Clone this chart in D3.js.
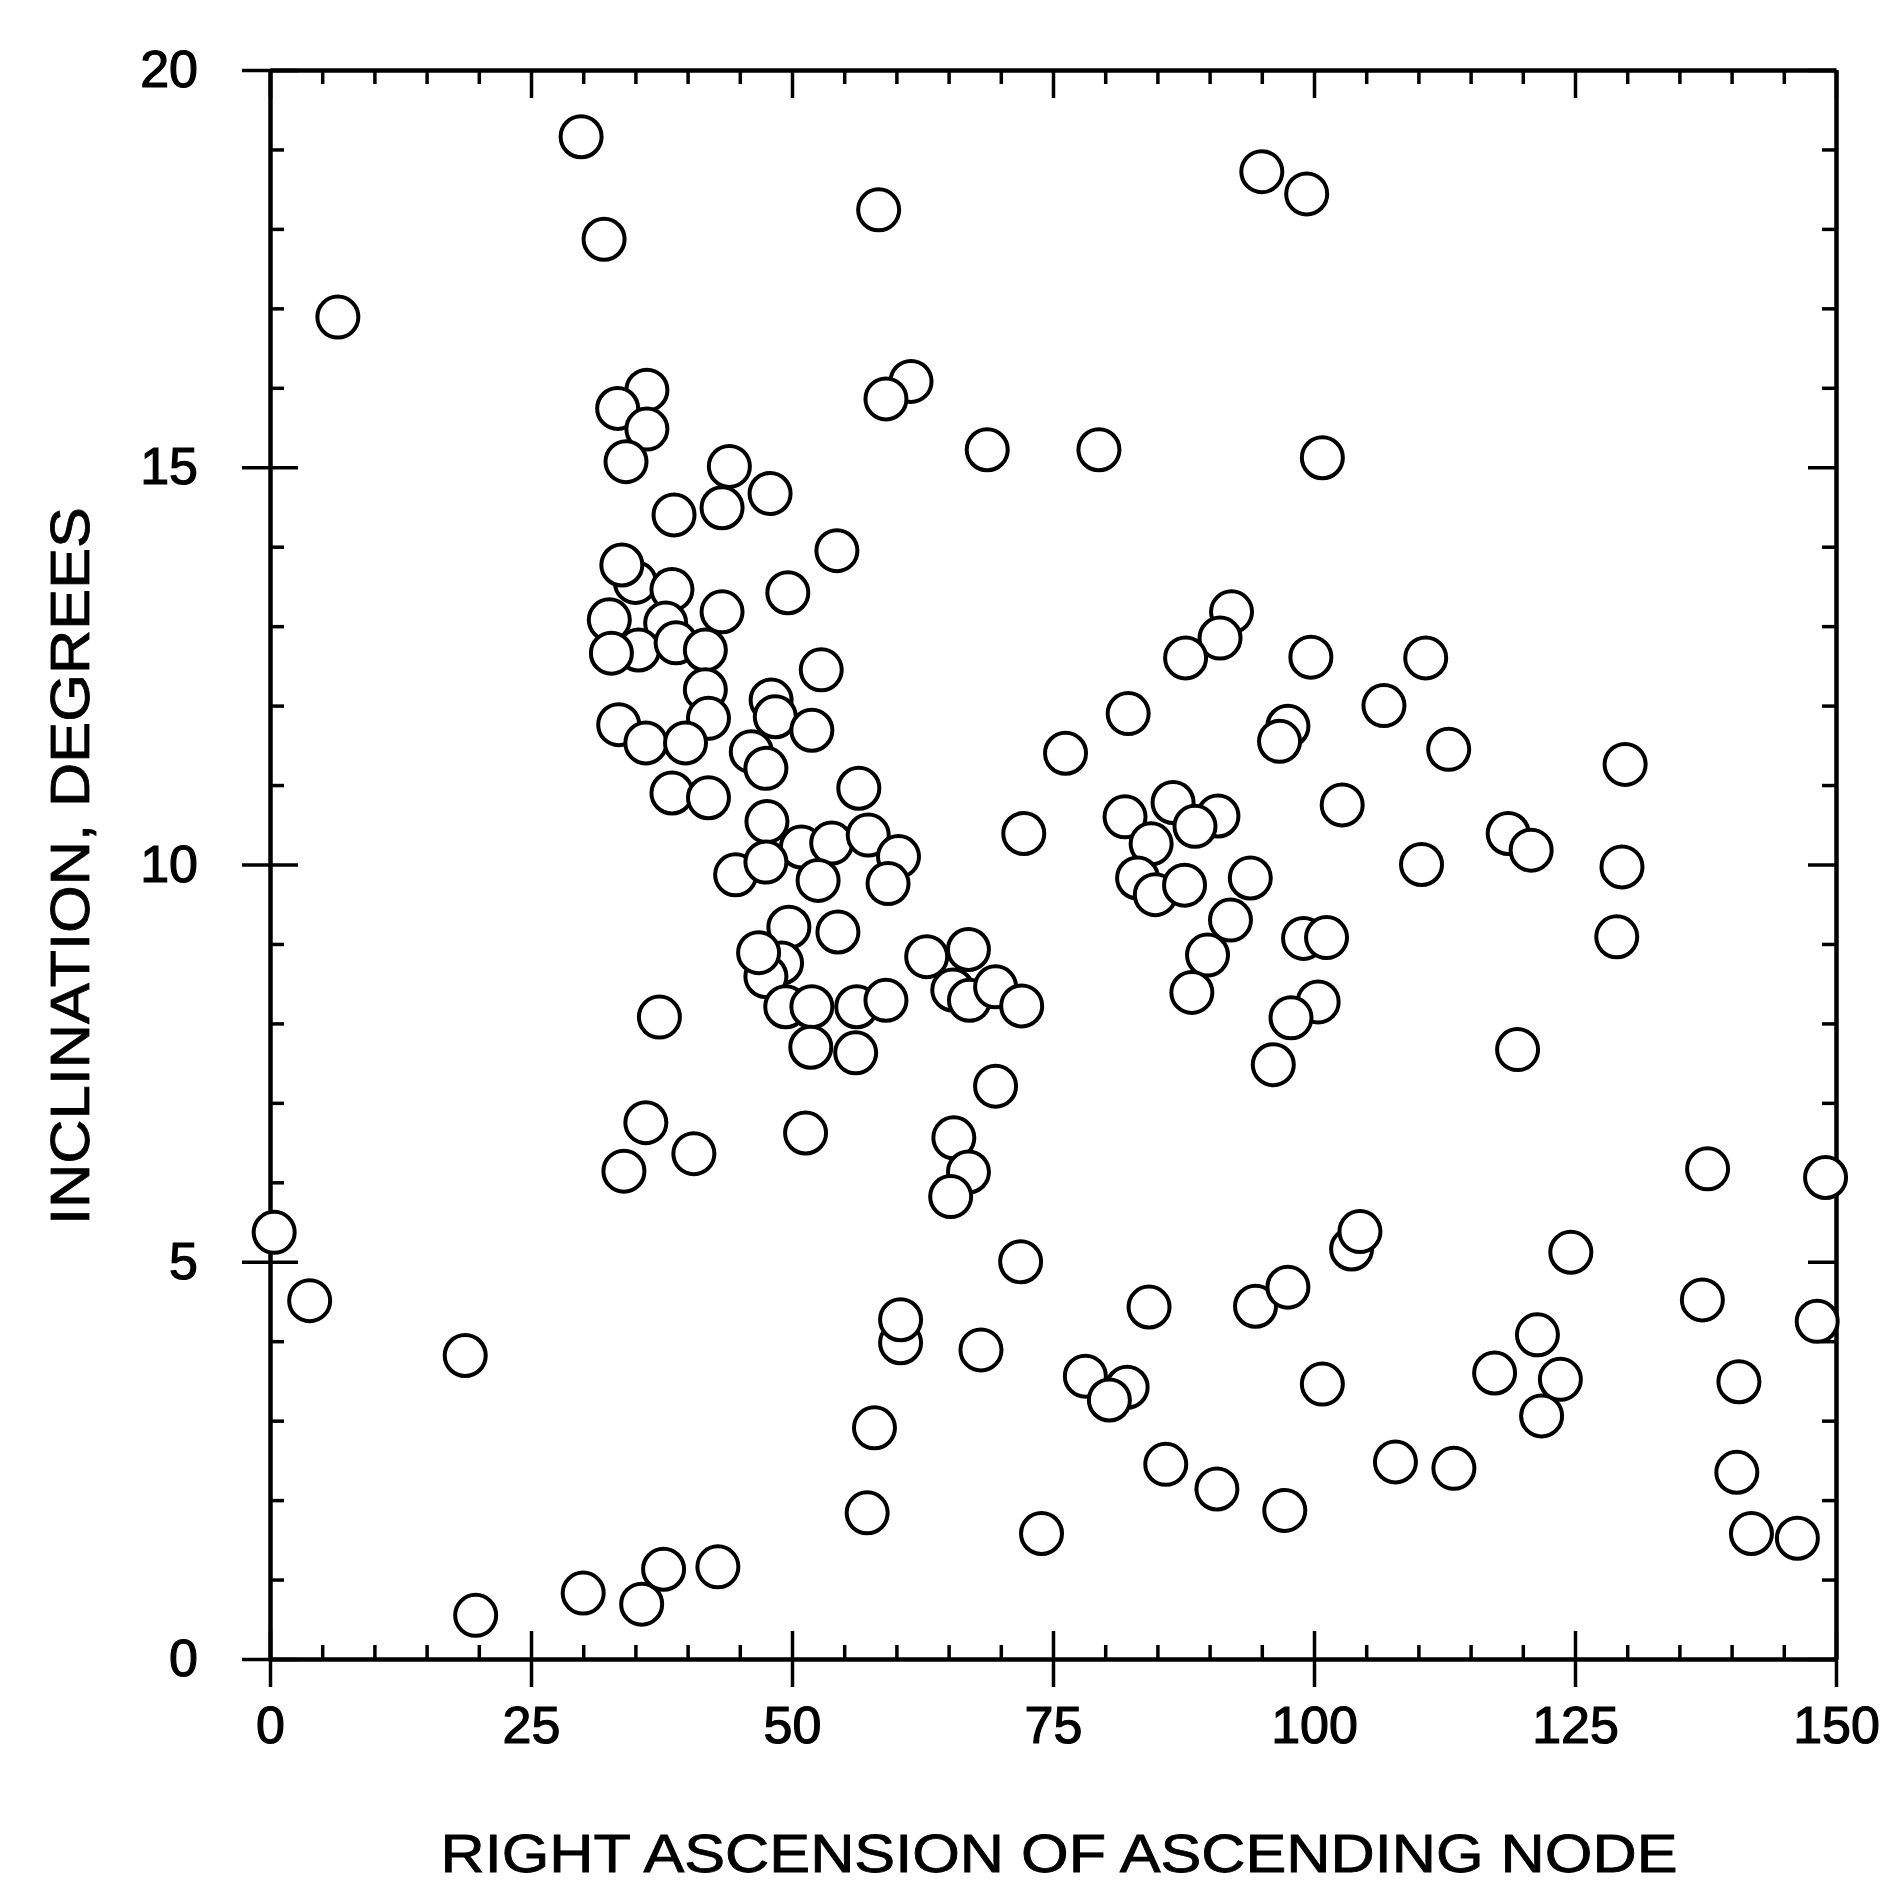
<!DOCTYPE html>
<html>
<head>
<meta charset="utf-8">
<script src="https://cdn.jsdelivr.net/npm/d3@7"></script>
<style>
body { margin: 0; background: #ffffff; }
svg text { font-family: "Liberation Sans", Arial, sans-serif; fill: #000; }
</style>
</head>
<body>
<svg></svg>
<script>
// right ascension of ascending node (deg) and inclination (deg)
var raan = [6.5, 29.8, 32.0, 58.3, 95.0, 99.3, 36.1, 33.3, 36.1, 34.1,
    61.4, 59.0, 68.7, 79.4, 100.8, 44.0, 47.9, 38.7, 43.3, 54.3,
    35.0, 33.7, 38.5, 49.6, 43.3, 32.5, 37.9, 35.3, 32.7, 38.9,
    41.7, 52.8, 41.7, 42.0, 48.0, 48.4, 51.9, 33.4, 36.0, 39.8,
    46.1, 47.5, 38.5, 42.0, 56.4, 47.6, 50.9, 53.8, 57.3, 60.2,
    44.6, 47.5, 52.5, 59.2, 72.2, 54.4, 49.7, 49.0, 47.5, 46.8,
    49.4, 51.9, 56.2, 59.0, 51.8, 56.1, 62.9, 66.9, 65.4, 67.0,
    69.5, 72.0, 37.3, 69.5, 51.3, 65.5, 66.9, 65.2, 36.0, 33.9,
    40.6, 71.9, 76.2, 82.2, 92.1, 91.0, 87.7, 99.7, 110.7, 106.7,
    97.5, 96.7, 112.9, 129.8, 81.9, 86.5, 90.8, 88.6, 84.4, 102.7,
    118.6, 120.8, 110.3, 129.5, 129.0, 119.5, 83.1, 84.8, 87.6, 93.9,
    92.0, 99.0, 101.2, 89.8, 88.3, 100.4, 97.8, 96.1, 0.4, 3.8,
    18.7, 19.7, 30.0, 35.6, 37.7, 42.9, 57.2, 57.9, 60.4, 60.4,
    68.1, 73.9, 78.1, 82.1, 80.4, 84.2, 85.8, 90.7, 94.4, 97.5,
    100.8, 97.2, 103.6, 104.4, 107.8, 113.4, 117.3, 121.4, 123.6, 121.8,
    124.6, 137.2, 137.7, 140.7, 140.5, 141.9, 146.3, 148.2, 149.0]

var incl = [16.89, 19.16, 17.87, 18.24, 18.72, 18.44, 15.97, 15.74, 15.48, 15.07,
    16.08, 15.86, 15.22, 15.22, 15.12, 15.01, 14.67, 14.40, 14.49, 13.95,
    13.55, 13.77, 13.46, 13.42, 13.18, 13.08, 13.04, 12.70, 12.66, 12.79,
    12.70, 12.45, 12.20, 11.84, 12.07, 11.86, 11.69, 11.76, 11.53, 11.53,
    11.42, 11.21, 10.90, 10.84, 10.96, 10.54, 10.22, 10.27, 10.37, 10.10,
    9.87, 10.03, 9.80, 9.76, 10.39, 9.15, 9.21, 8.76, 8.59, 8.89,
    8.21, 8.21, 8.21, 8.29, 7.70, 7.63, 8.84, 8.93, 8.42, 8.29,
    8.46, 8.22, 8.08, 7.21, 6.62, 6.56, 6.13, 5.82, 6.75, 6.14,
    6.36, 5.00, 11.40, 11.90, 13.18, 12.85, 12.60, 12.61, 12.60, 12.00,
    11.74, 11.55, 11.45, 11.26, 10.60, 10.78, 10.61, 10.48, 10.26, 10.75,
    10.39, 10.18, 10.00, 9.97, 9.09, 7.67, 9.83, 9.62, 9.74, 9.83,
    9.30, 9.07, 9.08, 8.86, 8.39, 8.27, 8.07, 7.48, 5.37, 4.51,
    3.82, 0.55, 0.83, 0.69, 1.13, 1.16, 1.84, 2.91, 3.98, 4.27,
    3.89, 1.58, 3.56, 3.42, 3.26, 4.43, 2.45, 2.14, 4.44, 4.68,
    3.46, 1.87, 5.16, 5.38, 2.48, 2.40, 3.60, 4.08, 3.52, 3.06,
    5.12, 4.52, 6.17, 3.49, 2.35, 1.58, 1.52, 4.25, 6.06]

var xMajor = [0, 25, 50, 75, 100, 125, 150]
var xMinor = [5, 10, 15, 20, 30, 35, 40, 45, 55, 60, 65, 70, 80, 85, 90, 95,
    105, 110, 115, 120, 130, 135, 140, 145]
var yMajor = [0, 5, 10, 15, 20]
var yMinor = [1, 2, 3, 4, 6, 7, 8, 9, 11, 12, 13, 14, 16, 17, 18, 19]

var xTitle = 'RIGHT ASCENSION OF ASCENDING NODE'
var yTitle = 'INCLINATION, DEGREES'

var svgWidth = 1892, svgHeight = 1888
var plotLeft = 270, plotRight = 1836, plotTop = 70, plotBottom = 1659
var bigTick = 28, smallTick = 14

var svg = d3.select('svg')
    .attr('width', svgWidth)
    .attr('height', svgHeight)

svg.append('rect')
    .attr('width', svgWidth)
    .attr('height', svgHeight)
    .attr('fill', '#ffffff')

var xScale = d3.scaleLinear().domain([0, 150]).range([plotLeft, plotRight])
var yScale = d3.scaleLinear().domain([0, 20]).range([plotBottom, plotTop])

// helper: put an axis somewhere, ticks only unless keepDomain
function ticks(axis, tx, ty, keepDomain) {
    var g = svg.append('g')
        .attr('transform', 'translate(' + tx + ',' + ty + ')')
        .call(axis)
    g.selectAll('.tick line').attr('stroke', '#000').attr('stroke-width', 3.5)
    if (keepDomain) {
        g.select('.domain').attr('stroke', '#000').attr('stroke-width', 4.5)
    } else {
        g.select('.domain').remove()
    }
    return g
}

// bottom: labelled outer ticks, inner major + minor ticks
ticks(d3.axisBottom(xScale).tickValues(xMajor).tickSize(bigTick)
    .tickSizeOuter(0).tickPadding(19), 0, plotBottom, true)
ticks(d3.axisTop(xScale).tickValues(xMajor).tickSize(bigTick).tickFormat(''), 0, plotBottom)
ticks(d3.axisTop(xScale).tickValues(xMinor).tickSize(smallTick).tickFormat(''), 0, plotBottom)

// top
ticks(d3.axisBottom(xScale).tickValues(xMajor).tickSize(bigTick).tickSizeOuter(0).tickFormat(''), 0, plotTop, true)
ticks(d3.axisBottom(xScale).tickValues(xMinor).tickSize(smallTick).tickFormat(''), 0, plotTop)

// left: labelled outer ticks, inner major + minor ticks
ticks(d3.axisLeft(yScale).tickValues(yMajor).tickSize(bigTick)
    .tickSizeOuter(0).tickPadding(44), plotLeft, 0, true)
ticks(d3.axisRight(yScale).tickValues(yMajor).tickSize(bigTick).tickFormat(''), plotLeft, 0)
ticks(d3.axisRight(yScale).tickValues(yMinor).tickSize(smallTick).tickFormat(''), plotLeft, 0)

// right
ticks(d3.axisLeft(yScale).tickValues(yMajor).tickSize(bigTick).tickSizeOuter(0).tickFormat(''), plotRight, 0, true)
ticks(d3.axisLeft(yScale).tickValues(yMinor).tickSize(smallTick).tickFormat(''), plotRight, 0)

svg.selectAll('.tick text')
    .attr('font-size', 52)
    .attr('font-family', '"Liberation Sans", Arial, sans-serif')
    .attr('fill', '#000')
    .attr('stroke', '#000')
    .attr('stroke-width', 1.2)

// points
svg.append('g').selectAll('circle')
    .data(raan)
    .enter()
    .append('circle')
    .attr('cx', function(d) { return xScale(d) })
    .attr('cy', function(d, i) { return yScale(incl[i]) })
    .attr('r', 20.5)
    .attr('fill', '#ffffff')
    .attr('stroke', '#000')
    .attr('stroke-width', 4)

// titles
svg.append('text')
    .attr('x', 1059)
    .attr('y', 1872)
    .attr('text-anchor', 'middle')
    .attr('font-size', 53)
    .attr('textLength', 1237)
    .attr('lengthAdjust', 'spacingAndGlyphs')
    .attr('stroke', '#000')
    .attr('stroke-width', 0.8)
    .text(xTitle)

svg.append('text')
    .attr('transform', 'translate(89,866) rotate(-90)')
    .attr('text-anchor', 'middle')
    .attr('font-size', 55)
    .attr('textLength', 718)
    .attr('lengthAdjust', 'spacingAndGlyphs')
    .attr('stroke', '#000')
    .attr('stroke-width', 0.8)
    .text(yTitle)
</script>
</body>
</html>
